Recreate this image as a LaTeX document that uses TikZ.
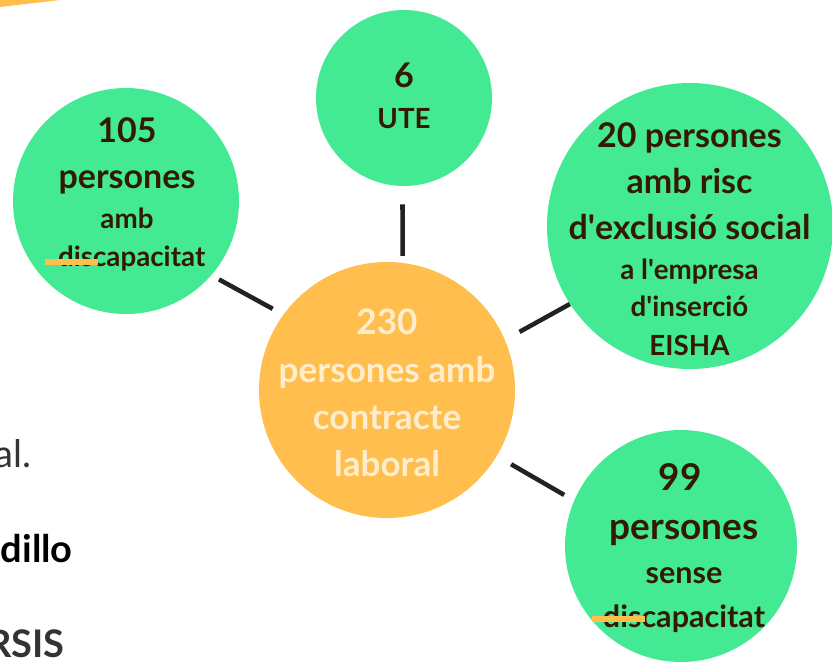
\documentclass[tikz,border=0pt]{standalone}
\usepackage{fontspec}
\setmainfont{Lato}
\usetikzlibrary{calc, positioning}
\definecolor{leafgreen}{HTML}{44EA93}
\definecolor{huborange}{HTML}{FFBE4D}
\definecolor{hubtext}{HTML}{FFEDCC}
\definecolor{leaftext}{HTML}{331A00}
\definecolor{linkdark}{HTML}{222222}
\definecolor{bodygray}{HTML}{333333}
\newcommand{\bigtxt}{\fontsize{25.5pt}{0pt}\selectfont}
\newcommand{\smalltxt}{\fontsize{20.8pt}{0pt}\selectfont}
\newcommand{\bigleaf}{\fontsize{27.7pt}{0pt}\selectfont}
\newcommand{\smallleaf}{\fontsize{22.9pt}{0pt}\selectfont}
\newcommand{\hubtxtsize}{\fontsize{26.3pt}{0pt}\selectfont}
\newcommand{\apo}{\textquotesingle}
\newcommand{\tightlines}{\lineskiplimit=-100pt\relax}
\tikzset{
  leaf/.style={circle, fill=leafgreen, inner sep=0pt},
  hub/.style={circle, fill=huborange, inner sep=0pt, minimum size=192pt},
  leaflabel/.style={text=leaftext, font=\bfseries\tightlines, align=center, inner sep=0pt},
  hublabel/.style={text=hubtext, font=\bfseries\tightlines, align=center, inner sep=0pt},
  link/.style={draw=linkdark, line width=3.4pt},
  strike/.style={draw=huborange, line width=4.5pt},
  bodytext/.style={text=bodygray, anchor=base east, inner sep=0pt}
}
\begin{document}
\begin{tikzpicture}[x=0.75pt, y=-0.75pt]
  \useasboundingbox (0,0) rectangle (832,662);
  % corner of the banner above
  \fill[huborange] (0,7) -- (60,0) -- (0,0) -- cycle;

  % circles
  \node[hub] (hub) at (387,390) {};
  \node[leaf, minimum size=132pt] (ute) at (404,98) {};
  \node[leaf, minimum size=169.5pt] (disab) at (126,201) {};
  \node[leaf, minimum size=214.5pt] (risk) at (690,226) {};
  \node[leaf, minimum size=174pt] (nodisab) at (681,546) {};

  % links, cut back from the circle edges
  \draw[link, shorten <=5.2pt, shorten >=13.5pt] (hub.83.8) -- (ute.269.35);
  \draw[link, shorten <=9pt, shorten >=6.4pt] (hub.144.7) -- (disab.319.3);
  \draw[link, shorten <=12.4pt] (hub.23.8) -- (risk.213.6);
  \draw[link, shorten <=12.3pt, shorten >=8.5pt] (hub.329.2) -- (nodisab.157.6);

  % labels
  \node[hublabel] (hubtxt) at (387,393) {\hubtxtsize 230\\[23.5pt] \hubtxtsize persones amb\\[23.5pt] \hubtxtsize contracte\\[23.5pt] \hubtxtsize laboral};
  \node[leaflabel] (utetxt) at (404,95.5) {\bigtxt 6\\[18.75pt] \smalltxt UTE};
  \node[leaflabel] (disabtxt) at (127,194.5) {\bigtxt 105\\[22.5pt] \bigtxt persones\\[18pt] \smalltxt amb\\[16.5pt] \smalltxt\hspace*{7pt}discapacitat};
  \node[leaflabel] (risktxt) at (689.5,239.5) {\bigtxt 20 persones\\[22.5pt] \bigtxt amb risc\\[22.5pt] \bigtxt d\apo exclusió social\\[18pt] \smalltxt a l\apo empresa\\[15.75pt] \smalltxt d\apo inserció\hspace*{6pt}\\[17.25pt] \smalltxt EISHA};
  \node[leaflabel] (nodisabtxt) at (684,548) {\bigleaf 99\hspace*{6pt}\\[24.75pt] \bigleaf persones\\[21pt] \smallleaf sense\\[21pt] \smallleaf discapacitat};

  % orange marks over the text
  \coordinate (strikeAw) at (45,262);
  \coordinate (strikeAe) at (98,262);
  \coordinate (strikeBw) at (592,618.7);
  \coordinate (strikeBe) at (645,618.7);
  \draw[strike] (strikeAw) -- (strikeAe);
  \draw[strike] (strikeBw) -- (strikeBe);

  % cut off page text on the left
  \node[bodytext, font=\fontsize{28.5pt}{0pt}\selectfont] (bodyA) at (32,467) {al.};
  \node[bodytext, font=\bfseries\fontsize{28.5pt}{0pt}\selectfont, text=black] (bodyB) at (73,562) {dillo};
  \node[bodytext, font=\bfseries\fontsize{28.5pt}{0pt}\selectfont] (bodyC) at (65,657.5) {RSIS};
\end{tikzpicture}
\end{document}
